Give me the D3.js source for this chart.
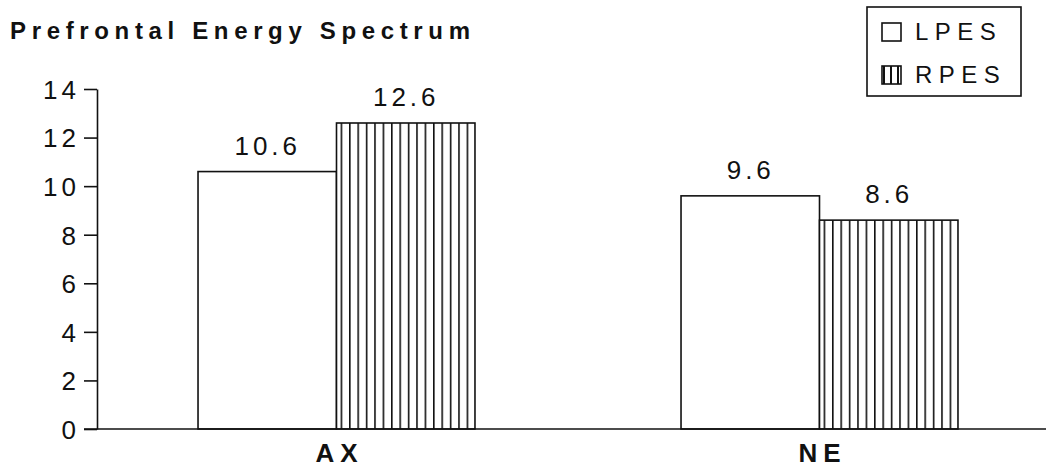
<!DOCTYPE html>
<html>
<head>
<meta charset="utf-8">
<script src="https://cdn.jsdelivr.net/npm/d3@7"></script>
<style>
  html, body { margin: 0; padding: 0; background: #fff; }
  svg { display: block; font-family: "Liberation Sans", Arial, sans-serif; }
</style>
</head>
<body>
<svg id="chart" width="1046" height="468"></svg>
<script>
// Prefrontal energy spectrum, left vs right, per group
const categories = ["AX", "NE"];
const seriesNames = ["LPES", "RPES"];
const lpesValues = [10.6, 9.6];
const rpesValues = [12.6, 8.6];
const yTicks = [0, 2, 4, 6, 8, 10, 12, 14];
const titleText = "Prefrontal Energy Spectrum";

const seriesValues = { LPES: lpesValues, RPES: rpesValues };
const rows = categories.map((c, i) => ({
  category: c,
  values: seriesNames.map(s => ({ series: s, value: seriesValues[s][i] }))
}));

const svg = d3.select("#chart");
const ink = "#111";

// Hatch for the right-hemisphere series
const defs = svg.append("defs");
const hatch = defs.append("pattern")
  .attr("id", "vhatch")
  .attr("patternUnits", "userSpaceOnUse")
  .attr("width", 8.4).attr("height", 10)
  .attr("x", 338);
hatch.append("rect").attr("width", 8.4).attr("height", 10).attr("fill", "#fff");
hatch.append("line")
  .attr("x1", 0.8).attr("x2", 0.8).attr("y1", 0).attr("y2", 10)
  .attr("stroke", ink).attr("stroke-width", 1.6);

// Narrow hatch used inside the legend swatch
const lh = defs.append("pattern")
  .attr("id", "legendHatch")
  .attr("patternUnits", "userSpaceOnUse")
  .attr("width", 7).attr("height", 10).attr("x", 883);
lh.append("rect").attr("width", 7).attr("height", 10).attr("fill", "#fff");
lh.append("line")
  .attr("x1", 1).attr("x2", 1).attr("y1", 0).attr("y2", 10)
  .attr("stroke", ink).attr("stroke-width", 2);

const fills = { LPES: "#fff", RPES: "url(#vhatch)" };

const axisX = 97;
const y = d3.scaleLinear().domain([0, 14]).range([429, 89]);
const x0 = d3.scaleBand().domain(categories).range([95, 1061]).padding(0);
const x1 = d3.scaleBand().domain(seriesNames)
  .range([0, x0.bandwidth()]).paddingInner(0).paddingOuter(0.744);

// Title
svg.append("text")
  .attr("x", 10).attr("y", 39)
  .attr("font-size", 24).attr("font-weight", "bold")
  .attr("textLength", 460).attr("lengthAdjust", "spacing")
  .attr("fill", ink)
  .text(titleText);

// Bars
const groups = svg.append("g").selectAll("g")
  .data(rows).join("g")
  .attr("transform", d => `translate(${x0(d.category)},0)`);

groups.selectAll("rect")
  .data(d => d.values).join("rect")
  .attr("x", d => x1(d.series))
  .attr("y", d => y(d.value))
  .attr("width", x1.bandwidth())
  .attr("height", d => y(0) - y(d.value))
  .attr("fill", d => fills[d.series])
  .attr("stroke", ink).attr("stroke-width", 1.6);

// Value labels
groups.selectAll("text.val")
  .data(d => d.values).join("text")
  .attr("class", "val")
  .attr("x", d => x1(d.series) + x1.bandwidth() / 2 + 0.5)
  .attr("y", d => y(d.value) - 17)
  .attr("text-anchor", "middle")
  .attr("font-size", 26)
  .attr("letter-spacing", 4)
  .attr("fill", ink)
  .text(d => d.value.toFixed(1));

// Y axis
const yAxis = d3.axisLeft(y).tickValues(yTicks).tickSize(13).tickPadding(8).tickSizeOuter(0);
const gy = svg.append("g").attr("transform", `translate(${axisX},0)`).call(yAxis);
gy.select(".domain").attr("stroke", ink).attr("stroke-width", 1.6);
gy.selectAll(".tick line").attr("stroke", ink).attr("stroke-width", 1.6);
gy.selectAll(".tick text")
  .attr("font-size", 26).attr("font-family", null)
  .attr("letter-spacing", 4).attr("dx", 4).attr("dy", "0.36em")
  .attr("fill", ink);

// Baseline
svg.append("line")
  .attr("x1", axisX - 13).attr("x2", 1046)
  .attr("y1", y(0)).attr("y2", y(0))
  .attr("stroke", ink).attr("stroke-width", 1.6);

// Category labels
svg.append("g").selectAll("text")
  .data(categories).join("text")
  .attr("x", d => x0(d) + x0.bandwidth() / 2 + 3)
  .attr("y", 462)
  .attr("text-anchor", "middle")
  .attr("font-size", 26).attr("font-weight", "bold")
  .attr("letter-spacing", 6)
  .attr("fill", ink)
  .text(d => d);

// Legend
const legend = svg.append("g");
legend.append("rect")
  .attr("x", 867).attr("y", 7).attr("width", 154).attr("height", 89)
  .attr("fill", "#fff").attr("stroke", ink).attr("stroke-width", 1.6);
const items = legend.selectAll("g.item")
  .data(seriesNames).join("g")
  .attr("class", "item")
  .attr("transform", (d, i) => `translate(882,${23 + i * 43})`);
items.append("rect")
  .attr("width", 19).attr("height", 18)
  .attr("fill", d => d === "RPES" ? "url(#legendHatch)" : "#fff")
  .attr("stroke", ink).attr("stroke-width", 1.6);
items.append("text")
  .attr("x", 33).attr("y", 17)
  .attr("font-size", 24).attr("letter-spacing", 6.5)
  .attr("fill", ink)
  .text(d => d);
</script>
</body>
</html>
